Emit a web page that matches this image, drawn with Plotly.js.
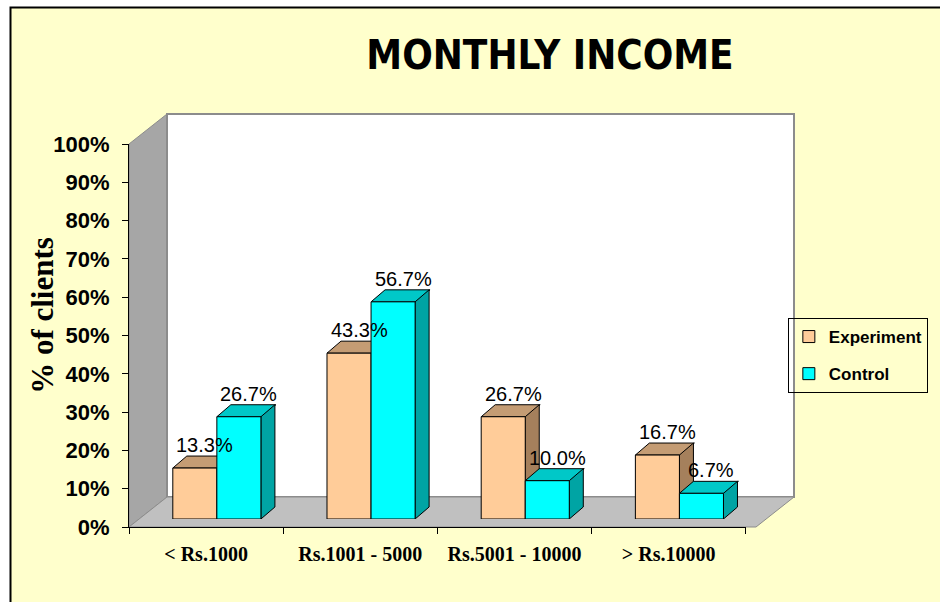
<!DOCTYPE html>
<html><head><meta charset="utf-8">
<script src="https://cdn.plot.ly/plotly-3.0.1.min.js"></script>
<style>html,body{margin:0;padding:0;background:#fff}</style>
</head><body>
<div id="chart" style="width:940px;height:602px"></div>
<script>
// ---- data ----
const categories = ['< Rs.1000', 'Rs.1001 - 5000', 'Rs.5001 - 10000', '> Rs.10000'];
const experiment = [13.3, 43.3, 26.7, 16.7];
const control = [26.7, 56.7, 10.0, 6.7];
const seriesNames = ['Experiment', 'Control'];
const yTickVals = [0, 10, 20, 30, 40, 50, 60, 70, 80, 90, 100];
const yTickText = yTickVals.map(v => v + '%');
const yTitle = '% of clients';
const chartTitle = 'MONTHLY INCOME';

// ---- geometry / style ----
const W = 940, H = 602;
const M = {l: 129, r: 145, t: 113, b: 75};
const plotW = W - M.l - M.r, plotH = H - M.t - M.b;
const axisLenX = 630, axisLenY = 383;
const barShift = {x: 11, y: 8};
const depth = {x: 38, y: 30};
const bd = {x: 14, y: 12};
const bargap = 0.4286;
const nCat = categories.length;
const pxPerCat = axisLenX / nCat;
const pxPerPct = axisLenY / 100;
const barW = (1 - bargap) / 2;
const barWpx = barW * pxPerCat;
const xIdx = categories.map((c, i) => i);
const boundaries = categories.map((c, i) => i - 0.5).concat([nCat - 0.5]);

const colors = {
  front: ['#FFCC99', '#00FFFF'],
  top: ['#C49C74', '#00C8C8'],
  side: ['#A5805C', '#00A4A4']
};
const series = [experiment, control];

const shapes = [];
const pix = {xref: 'paper', yref: 'paper', xsizemode: 'pixel', ysizemode: 'pixel', xanchor: 0, yanchor: 0, layer: 'below'};
// yellow frame
shapes.push(Object.assign({}, pix, {type: 'rect', x0: 10.5 - M.l, x1: W - M.l + 10, y0: -(M.b + 10), y1: (H - M.b) - 7.5,
  fillcolor: '#FFFFCC', line: {color: '#000', width: 2}}));
// left wall
shapes.push(Object.assign({}, pix, {type: 'path', path: `M0,0 L0,${axisLenY} L${depth.x},${axisLenY + depth.y} L${depth.x},${depth.y} Z`,
  fillcolor: '#A6A6A6', line: {color: '#8C8C8C', width: 1}}));
// back wall
const backR = axisLenX - 3 + depth.x;
shapes.push(Object.assign({}, pix, {type: 'path', path: `M${depth.x},${depth.y} L${depth.x},${axisLenY + depth.y} L${backR},${axisLenY + depth.y} L${backR},${depth.y} Z`,
  fillcolor: '#FFFFFF', line: {color: '#8C8C8C', width: 2}}));
// floor
shapes.push(Object.assign({}, pix, {type: 'path', path: `M0,0 L${depth.x},${depth.y} L${backR},${depth.y} L${backR - depth.x},0 Z`,
  fillcolor: '#C0C0C0', line: {color: '#8C8C8C', width: 1}}));

// 3D faces of bars + value labels
const annotations = [];
xIdx.forEach(i => {
  series.forEach((vals, s) => {
    const v = vals[i];
    const xl = i - barW + s * barW;
    const xr = xl + barW;
    const h = v * pxPerPct;
    const base = {xref: 'x2', yref: 'y2', xsizemode: 'pixel', ysizemode: 'pixel', type: 'path', layer: 'between',
      line: {color: '#000', width: 1}};
    shapes.push(Object.assign({}, base, {xanchor: xl, yanchor: v, fillcolor: colors.top[s],
      path: `M0,0 L${barWpx},0 L${barWpx + bd.x},${bd.y} L${bd.x},${bd.y} Z`}));
    shapes.push(Object.assign({}, base, {xanchor: xr, yanchor: v, fillcolor: colors.side[s],
      path: `M0,0 L${bd.x},${bd.y} L${bd.x},${bd.y - h} L0,${-h} Z`}));
    annotations.push({xref: 'x2', yref: 'y2', x: xl + barW / 2, y: v, text: v.toFixed(1) + '%', showarrow: false,
      yanchor: 'bottom', xanchor: 'center', xshift: 10, yshift: 10,
      font: {family: 'Liberation Sans, Arial', size: 20, color: '#000'}});
  });
});
// y-axis title
annotations.push({xref: 'paper', yref: 'paper', x: (40 - M.l) / plotW, y: (H - M.b - 315) / plotH, text: yTitle,
  textangle: -90, showarrow: false, xanchor: 'center', yanchor: 'middle',
  font: {family: 'Liberation Serif, Times New Roman', size: 31, weight: 'bold', color: '#000'}});

const traces = series.map((vals, s) => ({
  type: 'bar', name: seriesNames[s], x: xIdx, y: vals, xaxis: 'x2', yaxis: 'y2',
  marker: {color: colors.front[s], line: {color: '#000', width: 1}},
  legendgroup: 'g' + s, hoverinfo: 'skip'
}));
// empty trace so that the visible front axes (x, y) get a subplot
traces.unshift({type: 'scatter', x: [], y: [], xaxis: 'x', yaxis: 'y', showlegend: false, hoverinfo: 'skip'});

const layout = {
  width: W, height: H, margin: M,
  paper_bgcolor: '#FFFFFF', plot_bgcolor: 'rgba(0,0,0,0)',
  title: {text: chartTitle, x: 550 / W, xref: 'container', xanchor: 'center', y: 1 - 55 / H, yref: 'container', yanchor: 'middle',
    font: {family: 'DejaVu Sans Condensed, Liberation Sans, Arial', size: 40, weight: 'bold', color: '#000'}},
  barmode: 'group', bargap: bargap, bargroupgap: 0,
  showlegend: true,
  legend: {x: (945 - M.l) / plotW, xanchor: 'right', y: (H - M.b - 318) / plotH, yanchor: 'top',
    bgcolor: 'rgba(0,0,0,0)', bordercolor: '#000', borderwidth: 1, traceorder: 'grouped', tracegroupgap: 12,
    font: {family: 'Liberation Sans, Arial', size: 17, weight: 'bold', color: '#000'}},
  xaxis: {domain: [0, axisLenX / plotW], range: [-0.5, nCat - 0.5], anchor: 'y',
    tickmode: 'array', tickvals: xIdx, ticktext: categories, ticks: '',
    minor: {tickmode: 'array', tickvals: boundaries, ticks: 'outside', ticklen: 6, tickcolor: '#000', tickwidth: 1},
    showline: true, linecolor: '#000', linewidth: 1, showgrid: false, zeroline: false,
    tickfont: {family: 'Liberation Serif, Times New Roman', size: 20, weight: 'bold', color: '#000'}, ticklabelstandoff: 9, fixedrange: true},
  yaxis: {domain: [0, axisLenY / plotH], range: [0, 100], anchor: 'x',
    tickmode: 'array', tickvals: yTickVals, ticktext: yTickText, ticks: 'outside', ticklen: 6, tickcolor: '#000',
    showline: true, linecolor: '#000', linewidth: 1, showgrid: false, zeroline: false,
    tickfont: {family: 'Liberation Sans, Arial', size: 22, weight: 'bold', color: '#000'}, ticklabelstandoff: 8,
    fixedrange: true},
  xaxis2: {domain: [barShift.x / plotW, (barShift.x + axisLenX) / plotW], range: [-0.5, nCat - 0.5], anchor: 'y2', visible: false, fixedrange: true},
  yaxis2: {domain: [barShift.y / plotH, (barShift.y + axisLenY) / plotH], range: [0, 100], anchor: 'x2', visible: false, fixedrange: true},
  shapes: shapes,
  annotations: annotations
};

Plotly.newPlot('chart', traces, layout, {displayModeBar: false, staticPlot: true});
</script>
</body></html>
